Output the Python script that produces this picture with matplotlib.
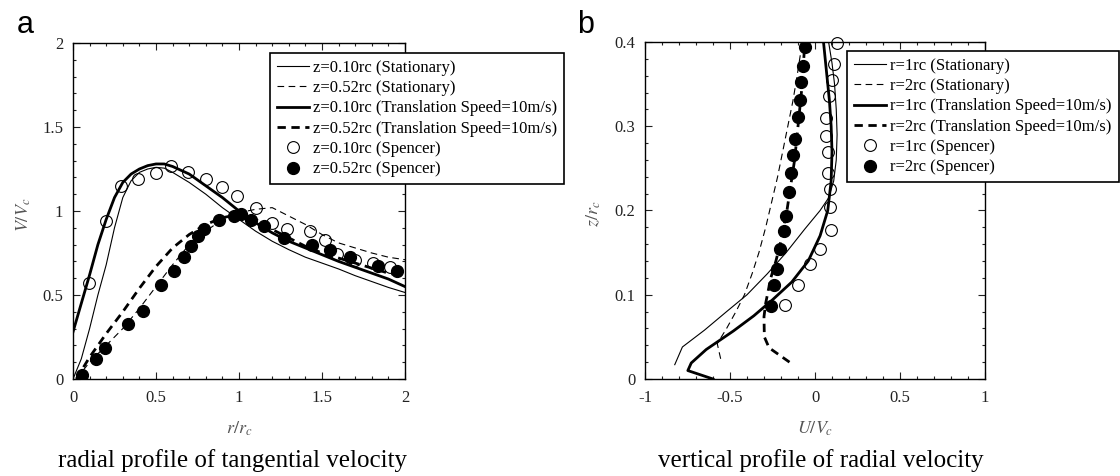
import numpy as np
import matplotlib
matplotlib.use("Agg")
import matplotlib.pyplot as plt
from matplotlib.ticker import MultipleLocator, FormatStrFormatter

plt.rcParams['font.family'] = ['Liberation Serif', 'DejaVu Serif']
plt.rcParams['mathtext.fontset'] = 'stix'
plt.rcParams['axes.unicode_minus'] = False

# ---- panel a: radial profile of tangential velocity ----
r_thin = [0, 0.05, 0.1, 0.15, 0.2, 0.25, 0.3, 0.35, 0.4, 0.45, 0.5, 0.55, 0.6, 0.7, 0.8,
          0.9, 1.0, 1.1, 1.2, 1.3, 1.4, 1.5, 1.6, 1.7, 1.8, 1.9, 2.0]
v_z010_stat = [0, 0.12, 0.3, 0.5, 0.68, 0.9, 1.08, 1.18, 1.23, 1.25, 1.26, 1.255, 1.23, 1.17, 1.10,
               1.02, 0.95, 0.88, 0.82, 0.77, 0.725, 0.69, 0.655, 0.615, 0.58, 0.545, 0.515]
v_z010_trans = [0.28, 0.45, 0.62, 0.8, 0.95, 1.08, 1.17, 1.22, 1.25, 1.27, 1.28, 1.28, 1.265, 1.22, 1.15,
                1.08, 1.00, 0.93, 0.87, 0.82, 0.78, 0.74, 0.70, 0.665, 0.63, 0.595, 0.55]

r_dash = [0.02, 0.1, 0.2, 0.3, 0.4, 0.5, 0.6, 0.7, 0.8, 0.9, 1.0, 1.1, 1.2, 1.3, 1.4, 1.5,
          1.6, 1.7, 1.8, 1.9, 2.0]
v_z052_stat = [0, 0.1, 0.2, 0.3, 0.42, 0.55, 0.68, 0.8, 0.88, 0.95, 0.99, 1.01, 1.02, 0.97, 0.92, 0.86,
               0.81, 0.78, 0.75, 0.725, 0.71]
v_z052_trans = [0, 0.13, 0.27, 0.4, 0.54, 0.67, 0.78, 0.86, 0.92, 0.96, 0.98, 0.95, 0.89, 0.84, 0.79, 0.75,
                0.72, 0.69, 0.66, 0.63, 0.61]

r_sp010 = [0.097, 0.20, 0.29, 0.39, 0.50, 0.59, 0.69, 0.80, 0.90, 0.99, 1.10, 1.20, 1.29, 1.43,
           1.52, 1.59, 1.70, 1.81, 1.91]
v_sp010 = [0.57, 0.94, 1.15, 1.19, 1.225, 1.265, 1.23, 1.19, 1.14, 1.09, 1.02, 0.93, 0.89, 0.88,
           0.83, 0.745, 0.71, 0.69, 0.665]
r_sp052 = [0.054, 0.14, 0.19, 0.33, 0.42, 0.53, 0.61, 0.67, 0.71, 0.75, 0.79, 0.88, 0.97, 1.01,
           1.07, 1.15, 1.27, 1.44, 1.55, 1.67, 1.84, 1.95]
v_sp052 = [0.024, 0.117, 0.187, 0.33, 0.405, 0.56, 0.645, 0.725, 0.79, 0.85, 0.89, 0.947, 0.973, 0.98,
           0.947, 0.91, 0.84, 0.80, 0.77, 0.725, 0.67, 0.645]

# ---- panel b: vertical profile of radial velocity ----
u_r1_stat = [-0.825, -0.78, -0.65, -0.52, -0.40, -0.28, -0.17, -0.06, 0.03, 0.08, 0.11, 0.125, 0.13,
             0.125, 0.115, 0.10, 0.08]
z_r1_stat = [0.017, 0.038, 0.058, 0.08, 0.10, 0.125, 0.15, 0.178, 0.2, 0.215, 0.235, 0.26, 0.29,
             0.32, 0.35, 0.375, 0.4]
u_r2_stat = [-0.555, -0.575, -0.52, -0.465, -0.415, -0.37, -0.33, -0.29, -0.255, -0.22, -0.19, -0.16,
             -0.13, -0.105, -0.075]
z_r2_stat = [0.024, 0.042, 0.06, 0.08, 0.10, 0.125, 0.15, 0.18, 0.21, 0.24, 0.27, 0.30, 0.33, 0.36, 0.40]
u_r1_trans = [-0.60, -0.748, -0.728, -0.64, -0.48, -0.36, -0.25, -0.137, -0.04, 0.03, 0.075, 0.095,
              0.10, 0.095, 0.085, 0.07, 0.05]
z_r1_trans = [0.0, 0.010, 0.019, 0.035, 0.057, 0.075, 0.094, 0.115, 0.14, 0.17, 0.2, 0.235, 0.27,
              0.30, 0.33, 0.36, 0.4]
u_r2_trans = [-0.15, -0.27, -0.298, -0.30, -0.29, -0.26, -0.23, -0.205, -0.185, -0.165, -0.15, -0.135,
              -0.12, -0.105, -0.09, -0.075, -0.06]
z_r2_trans = [0.020, 0.037, 0.05, 0.074, 0.09, 0.12, 0.14, 0.16, 0.18, 0.20, 0.22, 0.24, 0.26, 0.29,
              0.32, 0.35, 0.4]

u_sp1 = [0.13, 0.11, 0.10, 0.085, 0.063, 0.067, 0.074, 0.074, 0.088, 0.088, 0.095, 0.032, -0.03,
         -0.10, -0.175]
z_sp1 = [0.399, 0.374, 0.355, 0.336, 0.31, 0.289, 0.269, 0.244, 0.226, 0.204, 0.177, 0.154, 0.136,
         0.112, 0.088]
u_sp2 = [-0.059, -0.072, -0.08, -0.09, -0.10, -0.116, -0.128, -0.139, -0.152, -0.173, -0.183, -0.204,
         -0.223, -0.242, -0.257]
z_sp2 = [0.394, 0.372, 0.353, 0.331, 0.311, 0.285, 0.266, 0.244, 0.222, 0.194, 0.176, 0.154, 0.131,
         0.111, 0.087]

labels_a = ["z=0.10rc (Stationary)", "z=0.52rc (Stationary)",
            "z=0.10rc (Translation Speed=10m/s)", "z=0.52rc (Translation Speed=10m/s)",
            "z=0.10rc (Spencer)", "z=0.52rc (Spencer)"]
labels_b = ["r=1rc (Stationary)", "r=2rc (Stationary)",
            "r=1rc (Translation Speed=10m/s)", "r=2rc (Translation Speed=10m/s)",
            "r=1rc (Spencer)", "r=2rc (Spencer)"]

fig = plt.figure(figsize=(11.2, 4.76), dpi=100)
ax1 = fig.add_axes([73/1120, 97/476, 332/1120, 336/476])
ax2 = fig.add_axes([645/1120, 97/476, 340/1120, 337/476])

thin = dict(color='black', lw=0.8)
thick = dict(color='black', lw=2.0)
ms = 8.5


def style(ax):
    ax.tick_params(which='both', direction='in', top=True, right=True, labelsize=12,
                   colors='#222222', width=0.8)
    ax.tick_params(which='major', length=5, pad=8)
    ax.tick_params(which='minor', length=2.5)
    ax.tick_params(axis='y', which='major', pad=7)
    for s in ax.spines.values():
        s.set_linewidth(1.0)


def legend(ax, labels, x, y):
    leg = ax.legend(labels, loc='upper left', bbox_to_anchor=(x/1120, 1 - y/476),
                    bbox_transform=fig.transFigure, borderaxespad=0, fontsize=12,
                    handlelength=1.95, handletextpad=0.25, labelspacing=0.26,
                    borderpad=0.4, numpoints=1, fancybox=False, framealpha=1,
                    edgecolor='black')
    leg.get_frame().set_linewidth(1.2)
    leg.set_clip_on(False)


ax1.plot(r_thin, v_z010_stat, '-', **thin)
ax1.plot(r_dash, v_z052_stat, '--', dashes=(6, 4), **thin)
ax1.plot(r_thin, v_z010_trans, '-', **thick)
ax1.plot(r_dash, v_z052_trans, '--', dashes=(3, 2), **thick)
ax1.plot(r_sp010, v_sp010, 'o', ms=ms, mfc='none', mec='black', mew=0.8)
ax1.plot(r_sp052, v_sp052, 'o', ms=ms, mfc='black', mec='black')
ax1.set_xlim(0, 2)
ax1.set_ylim(0, 2)
ax1.xaxis.set_major_locator(MultipleLocator(0.5))
ax1.xaxis.set_minor_locator(MultipleLocator(0.1))
ax1.yaxis.set_major_locator(MultipleLocator(0.5))
ax1.yaxis.set_minor_locator(MultipleLocator(0.1))
ax1.xaxis.set_major_formatter(FormatStrFormatter('%g'))
ax1.yaxis.set_major_formatter(FormatStrFormatter('%g'))
style(ax1)
ax1.set_xlabel(r'$r/r_c$', fontsize=13, color='#555555')
ax1.set_ylabel(r'$V/V_c$', fontsize=13, color='#555555')
ax1.xaxis.set_label_coords(0.5, -0.12)
ax1.yaxis.set_label_coords(-0.12, 0.49)
legend(ax1, labels_a, 270, 53)

ax2.plot(u_r1_stat, z_r1_stat, '-', **thin)
ax2.plot(u_r2_stat, z_r2_stat, '--', dashes=(6, 4), **thin)
ax2.plot(u_r1_trans, z_r1_trans, '-', **thick)
ax2.plot(u_r2_trans, z_r2_trans, '--', dashes=(3, 2), **thick)
ax2.plot(u_sp1, z_sp1, 'o', ms=ms, mfc='none', mec='black', mew=0.8, clip_on=False)
ax2.plot(u_sp2, z_sp2, 'o', ms=ms, mfc='black', mec='black')
ax2.set_xlim(-1, 1)
ax2.set_ylim(0, 0.4)
ax2.xaxis.set_major_locator(MultipleLocator(0.5))
ax2.xaxis.set_minor_locator(MultipleLocator(0.1))
ax2.yaxis.set_major_locator(MultipleLocator(0.1))
ax2.yaxis.set_minor_locator(MultipleLocator(0.02))
ax2.xaxis.set_major_formatter(FormatStrFormatter('%g'))
ax2.yaxis.set_major_formatter(FormatStrFormatter('%g'))
style(ax2)
ax2.set_xlabel(r'$U/V_c$', fontsize=13, color='#555555')
ax2.set_ylabel(r'$z/r_c$', fontsize=13, color='#555555')
ax2.xaxis.set_label_coords(0.5, -0.12)
ax2.yaxis.set_label_coords(-0.124, 0.49)
legend(ax2, labels_b, 847, 51)

fig.text(17/1120, 1 - 33/476, 'a', fontsize=22, family='Liberation Sans', ha='left', va='baseline')
fig.text(577/1120, 1 - 33/476, 'b', fontsize=22, family='Liberation Sans', ha='left', va='baseline')
fig.text(232/1120, 1 - 467/476, 'radial profile of tangential velocity', fontsize=18,
         ha='center', va='baseline')
fig.text(821/1120, 1 - 467/476, 'vertical profile of radial velocity', fontsize=18,
         ha='center', va='baseline')

fig.savefig('out.png', dpi=100)
